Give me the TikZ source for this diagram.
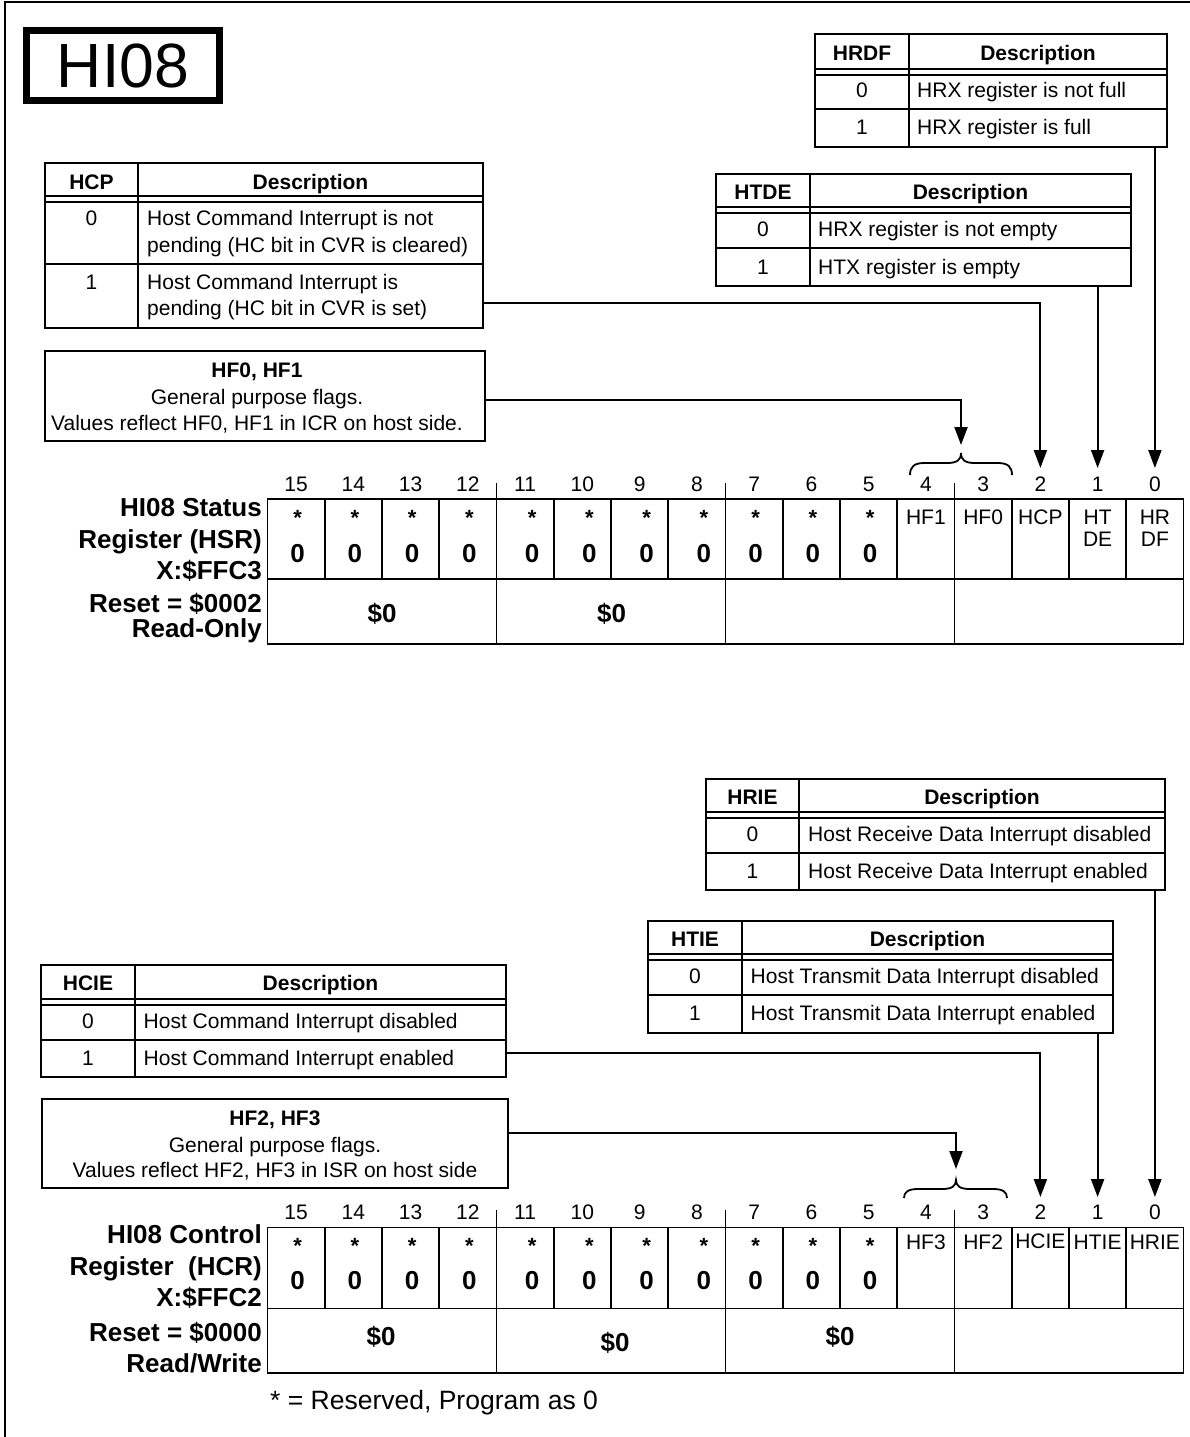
\documentclass[tikz,border=0pt]{standalone}
\usepackage{fontspec}
\setmainfont{Liberation Sans}
\usetikzlibrary{arrows.meta}
\newcommand\desctable[8]{%
  \draw[tline] (#2,#5) rectangle (#4,#8);
  \draw[tline] (#2,#6) -- (#4,#6);
  \draw[tline] (#2,{#6+6}) -- (#4,{#6+6});
  \draw[tline] (#2,#7) -- (#4,#7);
  \draw[tline] (#3,#5) -- (#3,#8);
  \coordinate (#1-nw) at (#2,#5);
  \coordinate (#1-se) at (#4,#8);
}
% #1 top, #2 mid, #3 bottom, #4 bit-number baseline, #5 tick top, #6 name
\newcommand\regframe[6]{%
  \draw[rline] (267.5,#1) rectangle (1183.5,#3);
  \draw[rline] (267.5,#2) -- (1183.5,#2);
  \foreach \i in {1,...,15} {\draw[rline] ({267.5+\i*57.25},#1) -- ({267.5+\i*57.25},#2);}
  \foreach \i in {4,8,12} {\draw[rline] ({267.5+\i*57.25},#5) -- ({267.5+\i*57.25},#3);}
  \foreach \i in {0,...,15} {\pgfmathtruncatemacro\bitno{15-\i}
    \node[t] (#6-n\bitno) at ({267.5+(\i+0.5)*57.25},#4) {\bitno};}
}
% #1 star baseline, #2 zero baseline, #3 name
\newcommand\regres[3]{%
  \foreach \i in {0,...,10} {\pgfmathtruncatemacro\bitno{15-\i}
    \pgfmathsetmacro\dx{(\i>3)*(\i<8)*5.5+1.5}
    \node[star] (#3-s\bitno) at ({267.5+(\i+0.5)*57.25+\dx},#1) {*};
    \node[zero] (#3-z\bitno) at ({267.5+(\i+0.5)*57.25+\dx},#2) {0};}
}
\begin{document}
\begin{tikzpicture}[x=1pt,y=-1pt,
  t/.style={inner sep=0pt, anchor=base, font=\fontsize{21}{25}\selectfont},
  tw/.style={t, anchor=base west},
  tb/.style={t, font=\fontsize{21}{25}\selectfont\bfseries},
  lab/.style={inner sep=0pt, anchor=base east, font=\fontsize{26}{31}\selectfont\bfseries},
  zero/.style={inner sep=0pt, anchor=base, font=\fontsize{26}{31}\selectfont\bfseries},
  star/.style={inner sep=0pt, anchor=base, font=\fontsize{22}{26}\selectfont\bfseries},
  tline/.style={line width=1.6pt},
  rline/.style={line width=1.8pt},
  conn/.style={line width=2pt, -{Triangle[length=18pt,width=13pt]}},
  brc/.style={line width=1.8pt}]
\useasboundingbox (0,0) rectangle (1190,1437);
\fill[white] (0,0) rectangle (1190,1437);
% outer frame
\draw[line width=2pt] (4.5,1437) -- (4.5,2) -- (1190,2);
% title
\draw[line width=7pt] (26.5,30.5) rectangle (219.5,100.5);
\node[inner sep=0pt, anchor=base, font=\fontsize{62.5}{70}\selectfont] (title) at (123,88) {HI08};

% ---------- HCP table ----------
\desctable{hcp}{45}{138}{483}{163}{196}{264}{328}
\node[tb] (hcp-h1) at (91.5,189.5) {HCP};
\node[tb] (hcp-h2) at (310.5,189.5) {Description};
\node[t] (hcp-v0) at (91.5,225.5) {0};
\node[tw] (hcp-d0a) at (147,225.5) {Host Command Interrupt is not};
\node[tw] (hcp-d0b) at (147,252.5) {pending (HC bit in CVR is cleared)};
\node[t] (hcp-v1) at (91.5,289.5) {1};
\node[tw] (hcp-d1a) at (147,289.5) {Host Command Interrupt is};
\node[tw] (hcp-d1b) at (147,315.5) {pending (HC bit in CVR is set)};

% ---------- HRDF table ----------
\desctable{hrdf}{815}{909}{1167}{34}{69}{109}{147}
\node[tb] (hrdf-h1) at (862,60.5) {HRDF};
\node[tb] (hrdf-h2) at (1038,60.5) {Description};
\node[t] (hrdf-v0) at (862,97.5) {0};
\node[tw] (hrdf-d0) at (917,97.5) {HRX register is not full};
\node[t] (hrdf-v1) at (862,134.5) {1};
\node[tw] (hrdf-d1) at (917,134.5) {HRX register is full};

% ---------- HTDE table ----------
\desctable{htde}{716}{810}{1131}{174}{207}{248}{286}
\node[tb] (htde-h1) at (763,199.5) {HTDE};
\node[tb] (htde-h2) at (970.5,199.5) {Description};
\node[t] (htde-v0) at (763,236.5) {0};
\node[tw] (htde-d0) at (818,236.5) {HRX register is not empty};
\node[t] (htde-v1) at (763,274.5) {1};
\node[tw] (htde-d1) at (818,274.5) {HTX register is empty};

% ---------- HF0/HF1 box ----------
\draw[tline] (45,351) rectangle (485,441);
\node[tb] (hf01-a) at (257,377.5) {HF0, HF1};
\node[t] (hf01-b) at (257,404.5) {General purpose flags.};
\node[t] (hf01-c) at (257,430.5) {Values reflect HF0, HF1 in ICR on host side.};

% ---------- HSR register ----------
\regframe{499}{579}{644}{491.5}{483}{hsr}
\regres{525}{562}{hsr}
\node[t] (hsr-f4) at (925.9,524.5) {HF1};
\node[t] (hsr-f3) at (983.1,524.5) {HF0};
\node[t] (hsr-f2) at (1040.4,524.5) {HCP};
\node[t] (hsr-f1a) at (1097.6,524.5) {HT};
\node[t] (hsr-f1b) at (1097.6,546.5) {DE};
\node[t] (hsr-f0a) at (1154.9,524.5) {HR};
\node[t] (hsr-f0b) at (1154.9,546.5) {DF};
\node[zero] (hsr-r1) at (382,622) {\$0};
\node[zero] (hsr-r2) at (611.5,622) {\$0};
\node[lab] (hsr-l1) at (262,516) {HI08 Status};
\node[lab] (hsr-l2) at (262,548) {Register (HSR)};
\node[lab] (hsr-l3) at (262,579) {X:\$FFC3};
\node[lab] (hsr-l4) at (262,612) {Reset = \$0002};
\node[lab] (hsr-l5) at (262,637) {Read-Only};
% brace over HF1/HF0
\draw[brc] (910,475) .. controls (910,467) and (914,463) .. (924,463) -- (947,463)
  .. controls (957,463) and (961,460) .. (961,453)
  .. controls (961,460) and (965,463) .. (975,463) -- (998,463)
  .. controls (1008,463) and (1012,467) .. (1012,475);

% connectors (status register)
\coordinate (hcpout) at (483,303);
\coordinate (hsr2) at (1040.4,468);
\coordinate (htdeout) at (1097.6,286);
\coordinate (hsr1) at (1097.6,468);
\coordinate (hrdfout) at (1154.9,147);
\coordinate (hsr0) at (1154.9,468);
\coordinate (hf01out) at (485,400);
\coordinate (hsrbr) at (961,445);
\draw[conn] (hcpout) -| (hsr2);
\draw[conn] (htdeout) -- (hsr1);
\draw[conn] (hrdfout) -- (hsr0);
\draw[conn] (hf01out) -| (hsrbr);

% ---------- HRIE table ----------
\desctable{hrie}{706}{799}{1165}{779}{812}{853}{890}
\node[tb] (hrie-h1) at (752.5,804.5) {HRIE};
\node[tb] (hrie-h2) at (982,804.5) {Description};
\node[t] (hrie-v0) at (752.5,841.5) {0};
\node[tw] (hrie-d0) at (808,841.5) {Host Receive Data Interrupt disabled};
\node[t] (hrie-v1) at (752.5,878.5) {1};
\node[tw] (hrie-d1) at (808,878.5) {Host Receive Data Interrupt enabled};

% ---------- HTIE table ----------
\desctable{htie}{648}{742}{1113}{921}{954}{995}{1033}
\node[tb] (htie-h1) at (695,946.5) {HTIE};
\node[tb] (htie-h2) at (927.5,946.5) {Description};
\node[t] (htie-v0) at (695,983.5) {0};
\node[tw] (htie-d0) at (750.5,983.5) {Host Transmit Data Interrupt disabled};
\node[t] (htie-v1) at (695,1020.5) {1};
\node[tw] (htie-d1) at (750.5,1020.5) {Host Transmit Data Interrupt enabled};

% ---------- HCIE table ----------
\desctable{hcie}{41}{135}{506}{965}{999}{1040}{1077}
\node[tb] (hcie-h1) at (88,990.5) {HCIE};
\node[tb] (hcie-h2) at (320.5,990.5) {Description};
\node[t] (hcie-v0) at (88,1028.5) {0};
\node[tw] (hcie-d0) at (143.5,1028.5) {Host Command Interrupt disabled};
\node[t] (hcie-v1) at (88,1065.5) {1};
\node[tw] (hcie-d1) at (143.5,1065.5) {Host Command Interrupt enabled};

% ---------- HF2/HF3 box ----------
\draw[tline] (42,1099) rectangle (508,1188);
\node[tb] (hf23-a) at (275,1125.5) {HF2, HF3};
\node[t] (hf23-b) at (275,1152.5) {General purpose flags.};
\node[t] (hf23-c) at (275,1177.5) {Values reflect HF2, HF3 in ISR on host side};

% ---------- HCR register ----------
\regframe{1227.5}{1308.5}{1373}{1219.5}{1210}{hcr}
\regres{1253}{1289}{hcr}
\node[t] (hcr-f4) at (925.9,1249.5) {HF3};
\node[t] (hcr-f3) at (983.1,1249.5) {HF2};
\node[t] (hcr-f2) at (1040.4,1248) {HCIE};
\node[t] (hcr-f1) at (1097.6,1249.5) {HTIE};
\node[t] (hcr-f0) at (1154.9,1249.5) {HRIE};
\node[zero] (hcr-r1) at (381,1345) {\$0};
\node[zero] (hcr-r2) at (615,1351) {\$0};
\node[zero] (hcr-r3) at (840,1345) {\$0};
\node[lab] (hcr-l1) at (262,1243) {HI08 Control};
\node[lab] (hcr-l2) at (262,1275) {Register\ \ (HCR)};
\node[lab] (hcr-l3) at (262,1306) {X:\$FFC2};
\node[lab] (hcr-l4) at (262,1341) {Reset = \$0000};
\node[lab] (hcr-l5) at (262,1372) {Read/Write};
% brace over HF3/HF2
\draw[brc] (904,1198) .. controls (904,1192) and (908,1189) .. (918,1189) -- (942,1189)
  .. controls (952,1189) and (956,1186) .. (956,1180)
  .. controls (956,1186) and (960,1189) .. (970,1189) -- (993,1189)
  .. controls (1003,1189) and (1007,1192) .. (1007,1198);

% connectors (control register)
\coordinate (hcieout) at (506,1053);
\coordinate (hcr2) at (1040.4,1197);
\coordinate (htieout) at (1097.6,1033);
\coordinate (hcr1) at (1097.6,1197);
\coordinate (hrieout) at (1154.9,890);
\coordinate (hcr0) at (1154.9,1197);
\coordinate (hf23out) at (508,1133);
\coordinate (hcrbr) at (956,1169);
\draw[conn] (hcieout) -| (hcr2);
\draw[conn] (htieout) -- (hcr1);
\draw[conn] (hrieout) -- (hcr0);
\draw[conn] (hf23out) -| (hcrbr);

% footnote
\node[inner sep=0pt, anchor=base west, font=\fontsize{26.5}{31}\selectfont] (note) at (270,1409.5) {* = Reserved, Program as 0};
\end{tikzpicture}
\end{document}
